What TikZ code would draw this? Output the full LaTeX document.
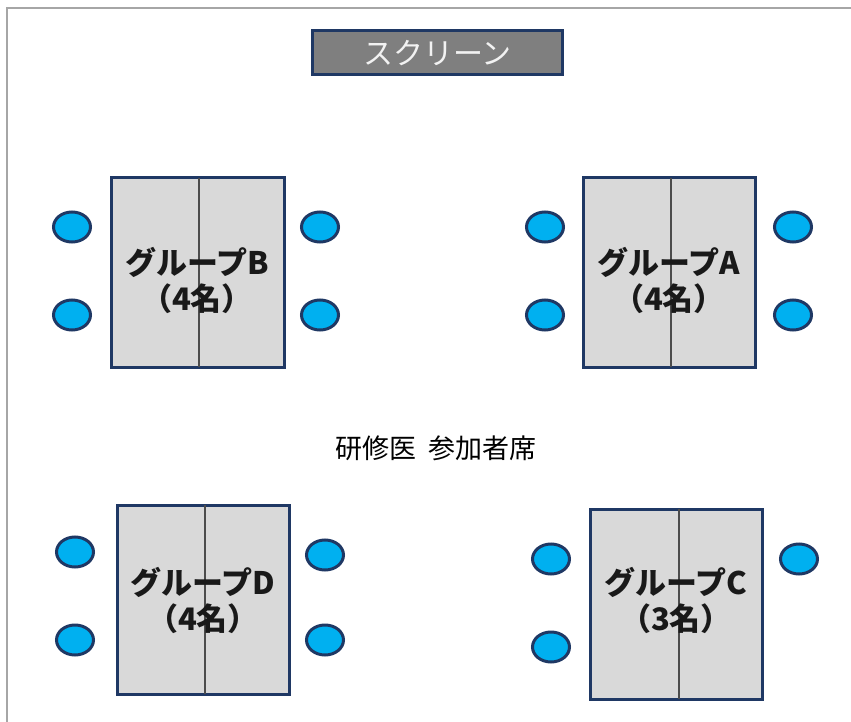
\documentclass[tikz,border=0pt]{standalone}
\usepackage{fontspec}
\usetikzlibrary{shapes.geometric}
\newfontfamily\jp{Noto Sans CJK JP}
\definecolor{navy}{HTML}{1F3864}
\definecolor{tablegray}{HTML}{D9D9D9}
\definecolor{screengray}{HTML}{7F7F7F}
\definecolor{chairblue}{HTML}{00B0F0}
\begin{document}
\begin{tikzpicture}[x=1pt,y=-1pt,
  tablebox/.style={draw=navy,line width=3pt,fill=tablegray,inner sep=0pt},
  chair/.style={ellipse,draw=navy,line width=3pt,fill=chairblue,minimum width=37pt,minimum height=30pt,inner sep=0pt},
  grouplabel/.style={font=\jp\bfseries\fontsize{31}{36}\selectfont,align=center,text=black!90},
  midline/.style={draw=black!70,line width=1.3pt}]
\useasboundingbox (0,0) rectangle (851,722);
\fill[white] (0,0) rectangle (851,722);
\draw[gray!70,line width=1.5pt] (7,722) -- (7,8) -- (851,8);
% screen
\node[draw=navy,line width=3pt,fill=screengray,minimum width=250pt,minimum height=44pt,inner sep=0pt,
  font=\jp\fontsize{30}{32}\selectfont,text=white!95!black] (screen) at (437.5,53) {スクリーン};
% group B
\draw[tablebox] (111,178) rectangle (284,367);
\coordinate (Bt) at (199,178); \coordinate (Bb) at (199,367);
\draw[midline] (Bt) -- (Bb);
\node[grouplabel] (lB) at (197,280) {グループB\\（4名）};
\node[chair] (b1) at (72,227) {}; \node[chair] (b2) at (72,315) {};
\node[chair] (b3) at (320,227) {}; \node[chair] (b4) at (320,315) {};
% group A
\draw[tablebox] (583,178) rectangle (755,367);
\coordinate (At) at (671,178); \coordinate (Ab) at (671,367);
\draw[midline] (At) -- (Ab);
\node[grouplabel] (lA) at (669,280) {グループA\\（4名）};
\node[chair] (a1) at (545,227) {}; \node[chair] (a2) at (545,315) {};
\node[chair] (a3) at (793,227) {}; \node[chair] (a4) at (793,315) {};
% center label
\node[font=\jp\fontsize{27}{30}\selectfont] (seat) at (436,448) {研修医\hspace{0.45em}参加者席};
% group D
\draw[tablebox] (117,505) rectangle (289,694);
\coordinate (Dt) at (205,505); \coordinate (Db) at (205,694);
\draw[midline] (Dt) -- (Db);
\node[grouplabel] (lD) at (203,600) {グループD\\（4名）};
\node[chair] (d1) at (75,552) {}; \node[chair] (d2) at (75,640) {};
\node[chair] (d3) at (325,555) {}; \node[chair] (d4) at (325,640) {};
% group C
\draw[tablebox] (590,509) rectangle (762,699);
\coordinate (Ct) at (679,509); \coordinate (Cb) at (679,699);
\draw[midline] (Ct) -- (Cb);
\node[grouplabel] (lC) at (676,600) {グループC\\（3名）};
\node[chair] (c1) at (551,559) {}; \node[chair] (c2) at (551,647) {};
\node[chair] (c3) at (799,559) {};
\end{tikzpicture}
\end{document}
